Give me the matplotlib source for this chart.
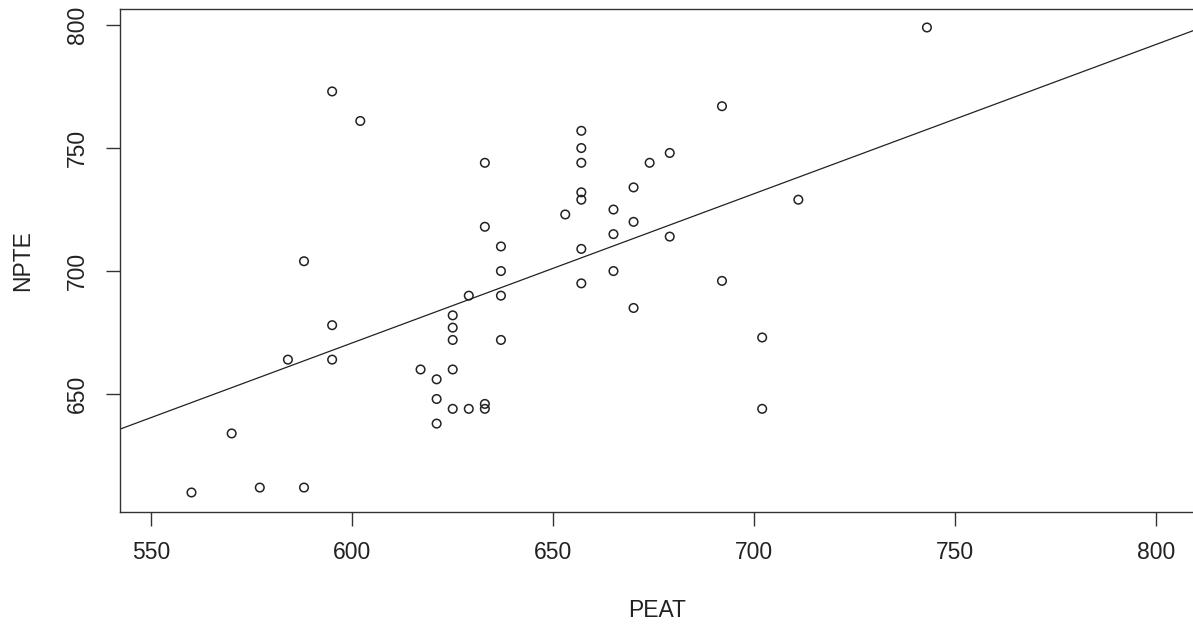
import numpy as np
import matplotlib
matplotlib.use("Agg")
import matplotlib.pyplot as plt

plt.rcParams['font.family'] = ['Liberation Sans', 'DejaVu Sans']

# PEAT / NPTE values
peat = [595, 602, 633, 633, 588, 629, 595, 584, 595, 625, 625, 625, 617,
        621, 625, 621, 625, 629, 633, 633, 621, 570, 560, 577, 588,
        637, 637, 637, 637, 657, 657, 657, 657, 657, 653, 657, 657,
        665, 665, 665, 670, 670, 670, 674, 679, 679, 692, 692, 702, 702,
        711, 743]
npte = [773, 761, 744, 718, 704, 690, 678, 664, 664, 682, 677, 672, 660,
        656, 660, 648, 644, 644, 646, 644, 638, 634, 610, 612, 612,
        710, 700, 690, 672, 757, 750, 744, 732, 729, 723, 709, 695,
        725, 715, 700, 734, 720, 685, 744, 748, 714, 767, 696, 673, 644,
        729, 799]
x_ticks = [550, 600, 650, 700, 750, 800]
y_ticks = [650, 700, 750, 800]

# regression line as drawn in the picture (intercept, slope)
line_coef = [306.9, 0.6065]

x = np.array(peat)
y = np.array(npte)

fig = plt.figure(figsize=(11.93, 6.35), dpi=100)
ax = fig.add_axes([0.1002, 0.1942, 0.8998, 0.7912])

ax.scatter(x, y, s=38, facecolors='none', edgecolors='#222222', linewidths=1.1, zorder=3)

ax.axline((0, line_coef[0]), slope=line_coef[1], color='#222222', linewidth=0.9)

ax.set_xlim(542.1, 809.2)
ax.set_ylim(602.2, 806.4)
ax.set_xticks(x_ticks)
ax.set_yticks(y_ticks)

for side in ['left', 'bottom', 'top']:
    ax.spines[side].set_color('#333333')
    ax.spines[side].set_linewidth(1.0)
ax.spines['right'].set_visible(False)

ax.tick_params(axis='both', length=10, width=1.0, color='#333333',
               labelsize=16.5, labelcolor='#222222')
ax.tick_params(axis='x', pad=11)
ax.tick_params(axis='y', pad=12, labelrotation=90)
for lbl in ax.get_yticklabels():
    lbl.set_va('center')

ax.set_xlabel('PEAT', fontsize=16.5, color='#222222')
ax.set_ylabel('NPTE', fontsize=16.5, color='#222222')
ax.xaxis.label.set_va('center')
ax.yaxis.label.set_va('center')
ax.xaxis.set_label_coords(0.5007, -0.1957)
ax.yaxis.set_label_coords(-0.0899, 0.5)

fig.savefig('out.png', dpi=100)
